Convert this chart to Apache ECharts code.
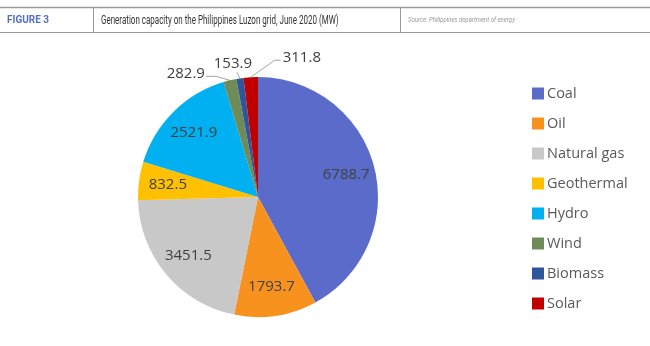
<!DOCTYPE html>
<html>
<head>
<meta charset="utf-8">
<style>
  html, body { margin: 0; padding: 0; background: #ffffff; }
  #chart { width: 650px; height: 346px; }
</style>
<script src="https://cdn.jsdelivr.net/npm/echarts@6/dist/echarts.min.js"></script>
</head>
<body>
<div id="chart"></div>
<script>
// ---- data ----
const categories = ['Coal', 'Oil', 'Natural gas', 'Geothermal', 'Hydro', 'Wind', 'Biomass', 'Solar'];
const capacityMW = [6788.7, 1793.7, 3451.5, 832.5, 2521.9, 282.9, 153.9, 311.8];
const sliceColors = ['#5B6BC9', '#F7921E', '#C8C8C8', '#FFC000', '#00B0F0', '#6F8B57', '#2F559A', '#C00000'];
const figureLabel = 'FIGURE 3';
const titleText = 'Generation capacity on the Philippines Luzon grid, June 2020 (MW)';
const sourceText = 'Source: Philippines department of energy';

const total = capacityMW.reduce((a, b) => a + b, 0);
const isSmall = v => v / total < 0.03;

const labelFont = '"Open Sans", "Noto Sans", sans-serif';

const chart = echarts.init(document.getElementById('chart'), null, { renderer: 'canvas' });

const pieCenter = [258, 197];
const pieRadius = 120;

const mainData = categories.map((name, i) => ({
  name: name,
  value: capacityMW[i],
  itemStyle: { color: sliceColors[i] },
  label: { show: isSmall(capacityMW[i]) },
  labelLine: { show: isSmall(capacityMW[i]) }
}));

const innerLabelData = categories.map((name, i) => ({
  name: name,
  value: capacityMW[i],
  label: { show: !isSmall(capacityMW[i]) }
}));

// leader-line layout for the small slices (relative to the slice edge point)
function smallLabelLayout(params) {
  const name = categories[params.dataIndex];
  if (!params.labelLinePoints) return;
  const p0 = params.labelLinePoints[0];
  if (name === 'Wind') {
    return {
      x: p0[0] - 25, y: p0[1] - 7, align: 'right', verticalAlign: 'middle',
      labelLinePoints: [p0, [p0[0] - 14, p0[1] - 4], [p0[0] - 24, p0[1] - 4]]
    };
  }
  if (name === 'Biomass') {
    return {
      x: p0[0] - 7, y: p0[1] - 15, align: 'center', verticalAlign: 'middle',
      labelLinePoints: [p0, [p0[0] - 2, p0[1] - 4], [p0[0] - 3, p0[1] - 6]]
    };
  }
  if (name === 'Solar') {
    return {
      x: p0[0] + 32, y: p0[1] - 19, align: 'left', verticalAlign: 'middle',
      labelLinePoints: [p0, [p0[0] + 24, p0[1] - 17], [p0[0] + 30, p0[1] - 17]]
    };
  }
}

const option = {
  backgroundColor: '#ffffff',
  animation: false,
  legend: {
    orient: 'vertical',
    left: 527,
    top: 81,
    icon: 'rect',
    itemWidth: 12,
    itemHeight: 12,
    itemGap: 15,
    data: categories.map((n, i) => ({ name: n, itemStyle: { color: sliceColors[i] } })),
    textStyle: { fontFamily: labelFont, fontSize: 14.5, color: '#595959', padding: [0, 0, 0, -2] }
  },
  graphic: [
    { type: 'line', shape: { x1: 0, y1: 7.5, x2: 650, y2: 7.5 }, style: { stroke: '#9a9a9a', lineWidth: 1.5 } },
    { type: 'line', shape: { x1: 0, y1: 32.5, x2: 650, y2: 32.5 }, style: { stroke: '#9a9a9a', lineWidth: 1 } },
    { type: 'line', shape: { x1: 93.5, y1: 7, x2: 93.5, y2: 32 }, style: { stroke: '#9a9a9a', lineWidth: 1 } },
    { type: 'line', shape: { x1: 400.5, y1: 7, x2: 400.5, y2: 32 }, style: { stroke: '#9a9a9a', lineWidth: 1 } },
    { type: 'text', x: 7, y: 20.5, scaleX: 0.95,
      style: { text: figureLabel, fontFamily: 'Roboto, sans-serif', fontWeight: 'bold', fontSize: 10.5, fill: '#5470C6', verticalAlign: 'middle' } },
    { type: 'text', x: 101, y: 20.5, scaleX: 0.64,
      style: { text: titleText, fontFamily: 'Roboto, sans-serif', fontSize: 12.5, fill: '#333333', verticalAlign: 'middle' } },
    { type: 'text', x: 408, y: 20.5, scaleX: 0.86,
      style: { text: sourceText, fontFamily: 'Roboto, sans-serif', fontStyle: 'italic', fontSize: 7, fill: '#999999', verticalAlign: 'middle' } }
  ],
  series: [
    {
      type: 'pie',
      center: pieCenter,
      radius: pieRadius,
      startAngle: 90,
      clockwise: true,
      avoidLabelOverlap: false,
      data: mainData,
      itemStyle: { borderWidth: 0 },
      label: {
        position: 'outside',
        formatter: p => p.value.toFixed(1),
        fontFamily: labelFont,
        fontSize: 15,
        color: '#404040'
      },
      labelLine: { length: 10, length2: 6, lineStyle: { color: '#a6a6a6', width: 1 } },
      labelLayout: smallLabelLayout,
      emphasis: { disabled: true }
    },
    {
      type: 'pie',
      silent: true,
      center: pieCenter,
      radius: [56, pieRadius],
      startAngle: 90,
      clockwise: true,
      data: innerLabelData,
      itemStyle: { color: 'rgba(0,0,0,0)' },
      label: {
        position: 'inside',
        formatter: p => p.value.toFixed(1),
        fontFamily: labelFont,
        fontSize: 15,
        color: '#404040'
      },
      labelLine: { show: false },
      emphasis: { disabled: true }
    }
  ]
};

chart.setOption(option);
</script>
</body>
</html>
